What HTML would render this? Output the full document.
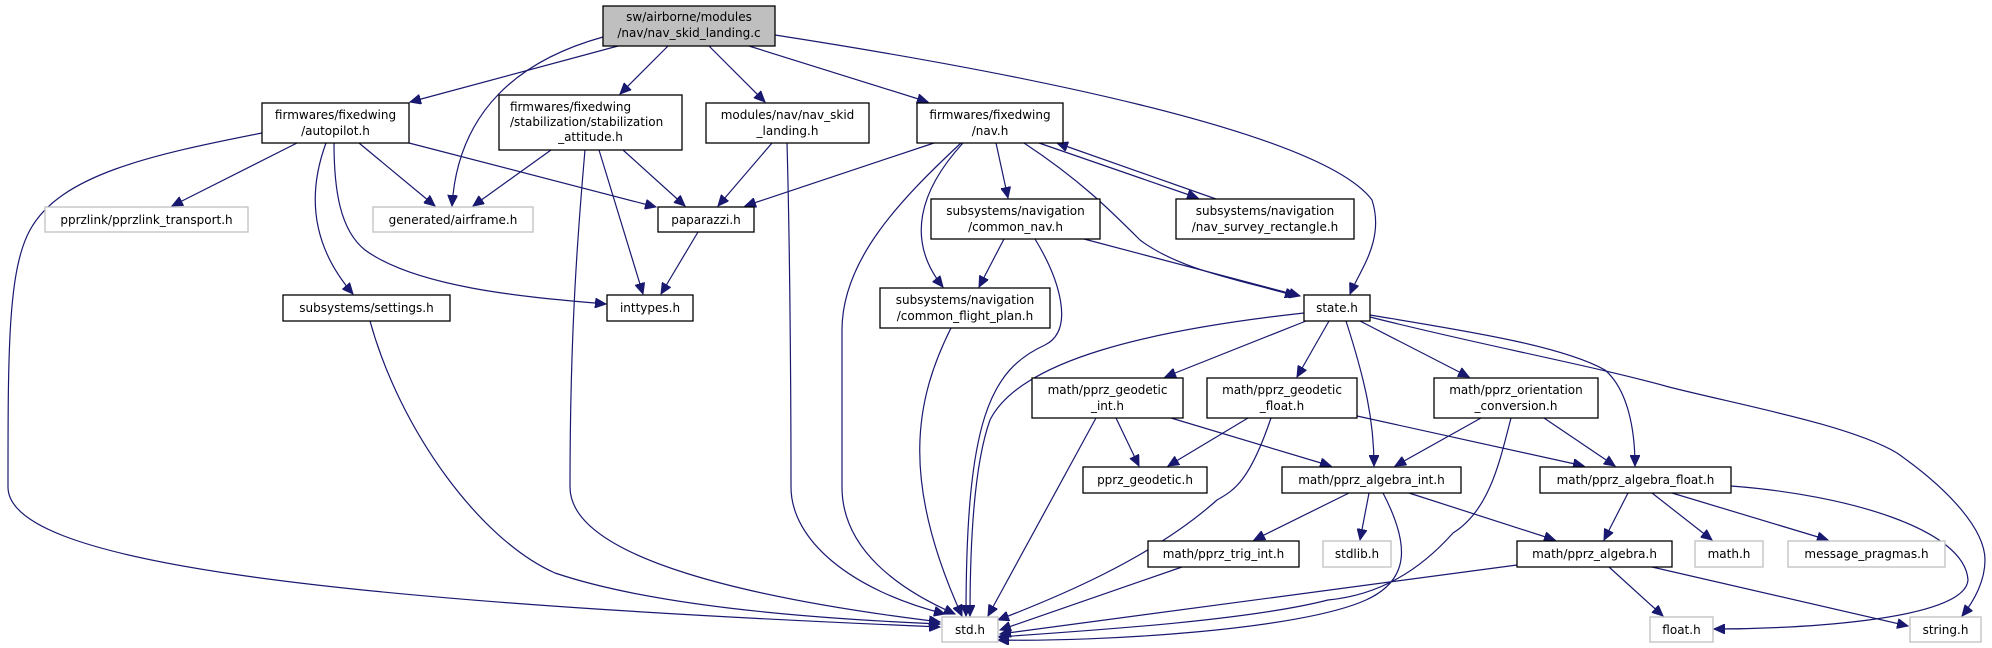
<!DOCTYPE html>
<html><head><meta charset="utf-8"><style>
html,body{margin:0;padding:0;background:#fff;}
svg{display:block;}
text{font-family:"DejaVu Sans","Liberation Sans",sans-serif;font-size:12px;fill:#000;text-anchor:middle;}
.e{fill:none;stroke:#191970;stroke-width:1.2;marker-end:url(#a);}
.n{fill:#fff;stroke:#000;stroke-width:1.3;}
.g{fill:#fff;stroke:#bfbfbf;stroke-width:1.3;}
</style></head><body>
<svg width="1992" height="648" viewBox="0 0 1992 648" xmlns="http://www.w3.org/2000/svg">
<defs><marker id="a" markerUnits="userSpaceOnUse" markerWidth="12" markerHeight="10" refX="11" refY="5" orient="auto"><path d="M0,0 L11,5 L0,10 z" fill="#191970" stroke="#191970"/></marker></defs>

<!-- edges -->
<path class="e" d="M618,46 L410,102"/>
<path class="e" d="M603,37 C520,60 458,110 452,206"/>
<path class="e" d="M668,46 L620,94"/>
<path class="e" d="M709,46 L765,102"/>
<path class="e" d="M749,46 L928,102"/>
<path class="e" d="M775,35 C1000,70 1320,130 1372,200 C1385,240 1360,270 1350,294"/>

<path class="e" d="M262,133 C150,155 60,175 30,230 C8,270 8,350 8,487 C8,560 300,600 940,627"/>
<path class="e" d="M297,143 L172,206"/>
<path class="e" d="M326,143 C305,200 315,250 353,294"/>
<path class="e" d="M334,143 C334,190 340,230 365,250 C420,290 540,298 606,304"/>
<path class="e" d="M359,143 L435,206"/>
<path class="e" d="M409,143 L656,207"/>
<path class="e" d="M370,321 C400,430 480,540 555,573 C650,605 800,618 940,624"/>

<path class="e" d="M551,150 L473,206"/>
<path class="e" d="M585,150 C578,230 570,330 570,487 C570,560 760,600 940,622"/>
<path class="e" d="M599,150 L643,294"/>
<path class="e" d="M623,150 L685,206"/>
<path class="e" d="M698,232 L661,294"/>

<path class="e" d="M772,143 L718,206"/>
<path class="e" d="M787,143 C790,250 791,400 791,487 C791,540 850,590 945,614"/>
<path class="e" d="M934,143 L745,206"/>
<path class="e" d="M961,143 C900,200 842,260 842,330 L842,487 C842,550 900,590 955,614"/>
<path class="e" d="M963,143 C920,190 905,240 943,287"/>
<path class="e" d="M996,143 L1008,198"/>
<path class="e" d="M1024,143 C1080,180 1110,210 1140,240 C1180,270 1240,280 1296,296"/>
<path class="e" d="M1039,143 L1198,198"/>
<path class="e" d="M1216,199 L1057,143"/>

<path class="e" d="M1004,239 L979,287"/>
<path class="e" d="M1035,239 C1060,280 1075,330 1045,345 C990,370 966,420 966,616"/>
<path class="e" d="M1084,239 L1300,296"/>
<path class="e" d="M951,328 C915,400 900,480 962,616"/>

<path class="e" d="M1304,313 C1150,330 1020,360 990,420 C972,470 970,560 970,616"/>
<path class="e" d="M1306,321 L1165,377"/>
<path class="e" d="M1329,321 L1297,377"/>
<path class="e" d="M1346,321 C1365,380 1374,420 1374,466"/>
<path class="e" d="M1360,321 L1469,377"/>
<path class="e" d="M1370,315 C1460,330 1560,345 1605,370 C1628,390 1635,430 1635,466"/>
<path class="e" d="M1370,317 C1480,345 1590,365 1669,387 C1740,405 1850,425 1897,453 C1950,490 1985,530 1985,560 C1985,580 1975,600 1962,616"/>

<path class="e" d="M1096,418 L988,616"/>
<path class="e" d="M1116,418 L1139,466"/>
<path class="e" d="M1171,418 L1331,466"/>
<path class="e" d="M1248,418 L1168,466"/>
<path class="e" d="M1271,418 C1250,480 1235,490 1217,500 C1150,560 1050,600 998,620"/>
<path class="e" d="M1357,416 L1584,466"/>
<path class="e" d="M1481,418 L1395,466"/>
<path class="e" d="M1511,418 C1500,460 1490,510 1453,533 C1420,570 1380,595 1328,600 C1250,620 1100,630 998,637"/>
<path class="e" d="M1544,418 L1615,466"/>

<path class="e" d="M1349,493 L1254,540"/>
<path class="e" d="M1369,493 L1360,540"/>
<path class="e" d="M1383,493 C1410,545 1410,580 1366,600 C1300,630 1100,642 998,640"/>
<path class="e" d="M1409,493 L1555,540"/>
<path class="e" d="M1182,567 L1000,630"/>
<path class="e" d="M1517,565 L1000,634"/>

<path class="e" d="M1628,493 L1604,540"/>
<path class="e" d="M1652,493 L1712,540"/>
<path class="e" d="M1672,493 L1828,540"/>
<path class="e" d="M1731,486 C1850,495 1965,530 1968,580 C1965,620 1800,629 1714,629"/>
<path class="e" d="M1609,567 L1663,616"/>
<path class="e" d="M1652,567 L1908,626"/>

<!-- nodes -->
<rect x="603" y="6" width="172" height="40" fill="#bfbfbf" stroke="#000" stroke-width="1.3"/>
<text x="689" y="21">sw/airborne/modules</text><text x="689" y="37">/nav/nav_skid_landing.c</text>

<rect class="n" x="262" y="103" width="147" height="40"/>
<text x="335.5" y="119">firmwares/fixedwing</text><text x="335.5" y="135">/autopilot.h</text>

<rect class="n" x="499" y="95" width="183" height="55"/>
<text x="510" y="111" style="text-anchor:start">firmwares/fixedwing</text><text x="510" y="126" style="text-anchor:start">/stabilization/stabilization</text><text x="590.5" y="141">_attitude.h</text>

<rect class="n" x="706" y="103" width="163" height="40"/>
<text x="787.5" y="119">modules/nav/nav_skid</text><text x="787.5" y="135">_landing.h</text>

<rect class="n" x="917" y="103" width="146" height="40"/>
<text x="990" y="119">firmwares/fixedwing</text><text x="990" y="135">/nav.h</text>

<rect class="g" x="45" y="207" width="203" height="25"/><text x="146.5" y="224">pprzlink/pprzlink_transport.h</text>
<rect class="g" x="373" y="207" width="160" height="25"/><text x="453" y="224">generated/airframe.h</text>
<rect class="n" x="658" y="207" width="96" height="25"/><text x="706" y="224">paparazzi.h</text>

<rect class="n" x="931" y="199" width="169" height="40"/>
<text x="1015.5" y="215">subsystems/navigation</text><text x="1015.5" y="231">/common_nav.h</text>
<rect class="n" x="1176" y="199" width="178" height="40"/>
<text x="1265" y="215">subsystems/navigation</text><text x="1265" y="231">/nav_survey_rectangle.h</text>

<rect class="n" x="283" y="295" width="167" height="26"/><text x="366.5" y="312">subsystems/settings.h</text>
<rect class="n" x="607" y="295" width="86" height="26"/><text x="650" y="312">inttypes.h</text>
<rect class="n" x="880" y="288" width="170" height="40"/>
<text x="965" y="304">subsystems/navigation</text><text x="965" y="320">/common_flight_plan.h</text>
<rect class="n" x="1304" y="295" width="66" height="26"/><text x="1337" y="312">state.h</text>

<rect class="n" x="1032" y="378" width="151" height="40"/>
<text x="1107.5" y="394">math/pprz_geodetic</text><text x="1107.5" y="410">_int.h</text>
<rect class="n" x="1207" y="378" width="150" height="40"/>
<text x="1282" y="394">math/pprz_geodetic</text><text x="1282" y="410">_float.h</text>
<rect class="n" x="1434" y="378" width="164" height="40"/>
<text x="1516" y="394">math/pprz_orientation</text><text x="1516" y="410">_conversion.h</text>

<rect class="n" x="1083" y="467" width="124" height="26"/><text x="1145" y="484">pprz_geodetic.h</text>
<rect class="n" x="1282" y="467" width="179" height="26"/><text x="1371.5" y="484">math/pprz_algebra_int.h</text>
<rect class="n" x="1540" y="467" width="191" height="26"/><text x="1635.5" y="484">math/pprz_algebra_float.h</text>

<rect class="n" x="1148" y="541" width="151" height="26"/><text x="1223.5" y="558">math/pprz_trig_int.h</text>
<rect class="g" x="1323" y="541" width="68" height="26"/><text x="1357" y="558">stdlib.h</text>
<rect class="n" x="1517" y="541" width="155" height="26"/><text x="1594.5" y="558">math/pprz_algebra.h</text>
<rect class="g" x="1695" y="541" width="68" height="26"/><text x="1729" y="558">math.h</text>
<rect class="g" x="1788" y="541" width="157" height="26"/><text x="1866.5" y="558">message_pragmas.h</text>

<rect class="g" x="942" y="617" width="56" height="25"/><text x="970" y="634">std.h</text>
<rect class="g" x="1650" y="617" width="63" height="25"/><text x="1681.5" y="634">float.h</text>
<rect class="g" x="1910" y="617" width="71" height="25"/><text x="1945.5" y="634">string.h</text>
</svg>
</body></html>
